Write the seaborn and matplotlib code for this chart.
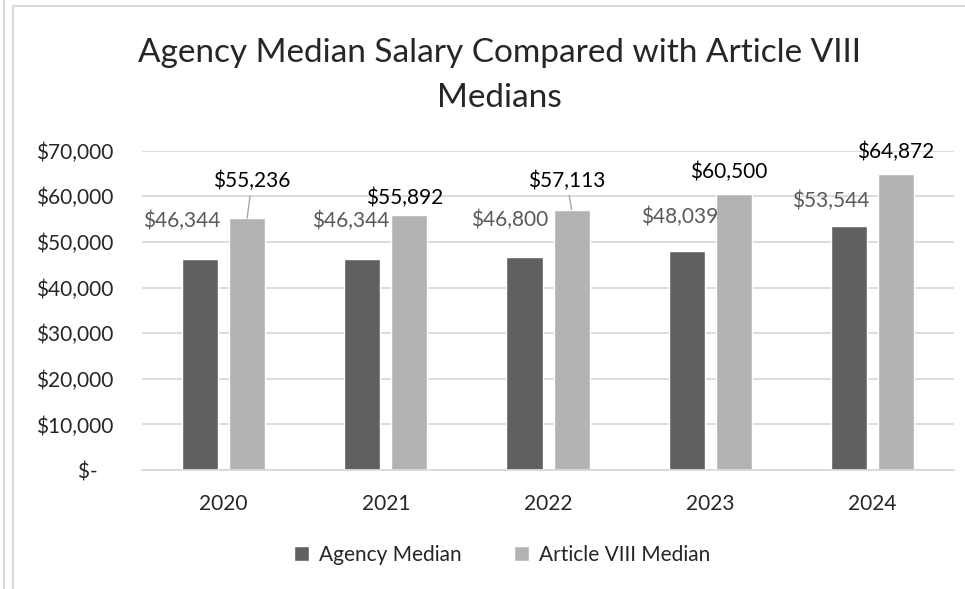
#!/usr/bin/env python3
"""Agency median salary vs Article VIII medians, grouped bar chart."""

import matplotlib.pyplot as plt
import matplotlib.ticker as mticker
from matplotlib.lines import Line2D
import pandas as pd
import seaborn as sns

YEARS = ["2020", "2021", "2022", "2023", "2024"]
AGENCY = [46344, 46344, 46800, 48039, 53544]
ARTICLE = [55236, 55892, 57113, 60500, 64872]
SERIES = ["Agency Median", "Article VIII Median"]
TITLE = "Agency Median Salary Compared with Article VIII\nMedians"

COLORS = ["#606060", "#b3b3b3"]
GRID = "#d9d9d9"

# label offsets from bar top centre, in pixels (dx, dy)
AGENCY_OFFSETS = [(-18, 38), (-12, 38), (-15, 37), (-7, 34), (-18, 25)]
ARTICLE_OFFSETS = [(5, 37), (-5, 17), (-5, 29), (-5, 22), (0, 22)]
LEADERS = [True, False, True, False, False]

sns.set_style("white")
plt.rcParams["font.family"] = ["Lato", "DejaVu Sans"]


def money(v, pos=None):
    if v == 0:
        return "$-   "
    return f"${v:,.0f}"


def main():
    df = pd.DataFrame({
        "year": YEARS * 2,
        "series": [SERIES[0]] * len(YEARS) + [SERIES[1]] * len(YEARS),
        "value": AGENCY + ARTICLE,
    })

    fig = plt.figure(figsize=(9.65, 5.89), dpi=100)
    ax = fig.add_axes([0.1476, 0.2020, 0.8406, 0.5421])
    sns.barplot(data=df, x="year", y="value", hue="series", palette=COLORS,
                width=0.58, gap=0.234, saturation=1, errorbar=None, ax=ax)

    ax.set_ylim(0, 70000)
    ax.set_xlim(-0.5, len(YEARS) - 0.5)
    ax.yaxis.set_major_locator(mticker.MultipleLocator(10000))
    ax.yaxis.set_major_formatter(mticker.FuncFormatter(money))
    ax.grid(axis="y", color=GRID, lw=1.3)
    ax.set_axisbelow(True)
    for s in ["top", "right", "left"]:
        ax.spines[s].set_visible(False)
    ax.spines["bottom"].set_color(GRID)
    ax.spines["bottom"].set_linewidth(1.3)
    ax.tick_params(axis="y", length=0, pad=21, labelsize=15)
    ax.tick_params(axis="x", length=0, pad=17, labelsize=15)
    ax.set(xlabel="", ylabel="")

    # data labels
    for cont, offs, col in [(ax.containers[0], AGENCY_OFFSETS, "#595959"),
                            (ax.containers[1], ARTICLE_OFFSETS, "black")]:
        for i, bar in enumerate(cont):
            x = bar.get_x() + bar.get_width() / 2
            h = bar.get_height()
            arrow = None
            if col == "black" and LEADERS[i]:
                arrow = dict(arrowstyle="-", color="#a6a6a6", lw=1,
                             shrinkA=1, shrinkB=0)
            ax.annotate(f"${h:,.0f}", xy=(x, h), xytext=offs[i],
                        textcoords="offset pixels", ha="center", va="center",
                        fontsize=15, color=col, arrowprops=arrow)

    # legend
    handles, labels = ax.get_legend_handles_labels()
    ax.legend_.remove()
    fig.legend(handles, labels, loc="center", bbox_to_anchor=(0.52, 0.058),
               ncol=2, frameon=False, fontsize=15, handlelength=0.75,
               handleheight=0.75, handletextpad=0.45, columnspacing=2.5)

    # two-line title, one baseline per line
    for line, y in zip(TITLE.split("\n"), [0.8952, 0.8183]):
        fig.text(0.518, y, line, ha="center", va="baseline", fontsize=24)

    # chart frame
    for xy in [([13, 13], [0, 583]), ([13, 965], [583, 583]),
               ([4, 4], [0, 589])]:
        fig.add_artist(Line2D(xy[0], xy[1], color=GRID, lw=1.5,
                              transform=None))
    fig.savefig("out.png", dpi=100)
    plt.close(fig)


if __name__ == "__main__":
    main()
